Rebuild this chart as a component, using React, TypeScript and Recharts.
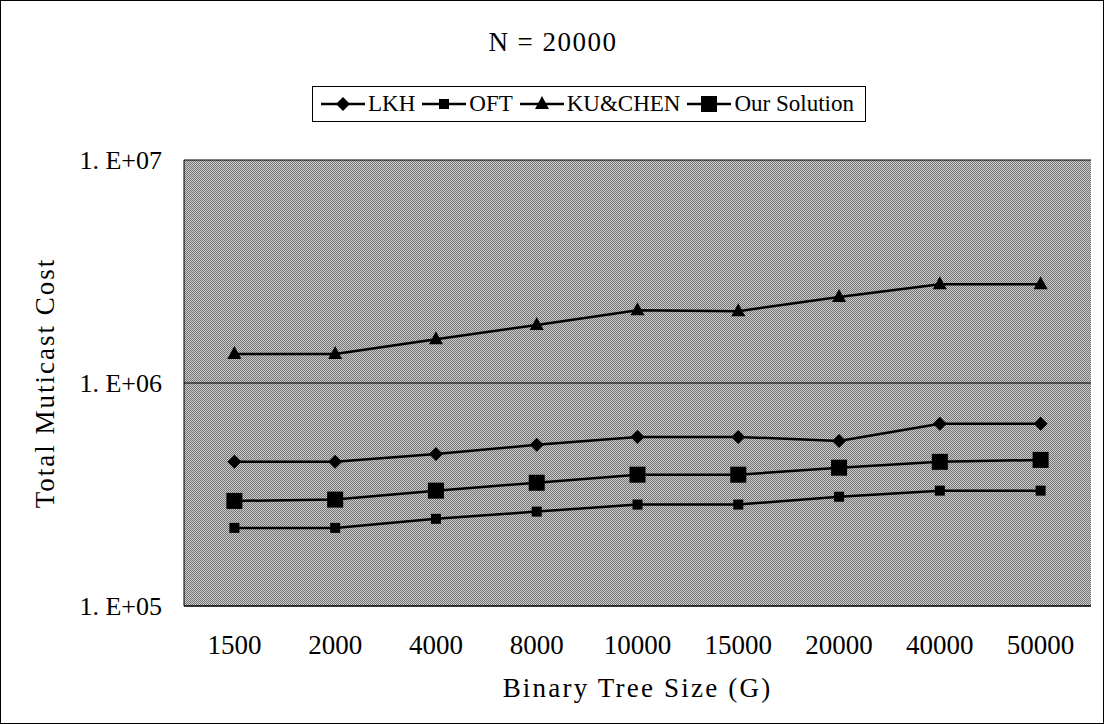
import { LineChart, Line, XAxis, YAxis, CartesianGrid } from 'recharts';

const treeSizes = ['1500', '2000', '4000', '8000', '10000', '15000', '20000', '40000', '50000'];
const lkh = [443000, 443000, 481000, 528000, 573000, 573000, 550000, 656000, 656000];
const oft = [224000, 224000, 246000, 265000, 285000, 285000, 309000, 329000, 329000];
const kuChen = [1350000, 1350000, 1570000, 1820000, 2120000, 2100000, 2430000, 2770000, 2770000];
const ourSolution = [296000, 300000, 329000, 357000, 388000, 388000, 417000, 443000, 452000];
const yTicks = [100000, 1000000, 10000000];

const data = treeSizes.map((size, i) => ({
  size,
  lkh: lkh[i],
  oft: oft[i],
  kuChen: kuChen[i],
  ourSolution: ourSolution[i],
}));

const font = '"Liberation Serif", "Times New Roman", serif';

type Shape = 'diamond' | 'smallSquare' | 'triangle' | 'bigSquare';

const marker = (shape: Shape, cx: number, cy: number, key?: string) => {
  if (shape === 'diamond') {
    return <polygon key={key} points={`${cx},${cy - 7} ${cx + 7},${cy} ${cx},${cy + 7} ${cx - 7},${cy}`} fill="#000" />;
  }
  if (shape === 'triangle') {
    return <polygon key={key} points={`${cx},${cy - 8} ${cx + 7},${cy + 5} ${cx - 7},${cy + 5}`} fill="#000" />;
  }
  const s = shape === 'bigSquare' ? 16 : 10;
  return <rect key={key} x={cx - s / 2} y={cy - s / 2} width={s} height={s} fill="#000" />;
};

const dotFor = (shape: Shape) => (props: any) => marker(shape, props.cx, props.cy, `${shape}-${props.index}`);

const legendItems: { name: string; shape: Shape }[] = [
  { name: 'LKH', shape: 'diamond' },
  { name: 'OFT', shape: 'smallSquare' },
  { name: 'KU&CHEN', shape: 'triangle' },
  { name: 'Our Solution', shape: 'bigSquare' },
];

const fmt = (v: number) => `1. E+0${Math.round(Math.log10(v))}`;

export default function App() {
  return (
    <div
      style={{
        position: 'absolute',
        left: 0,
        top: 0,
        width: 1104,
        height: 724,
        border: '1px solid #000',
        boxSizing: 'border-box',
        background: '#fff',
        fontFamily: font,
        color: '#000',
      }}
    >
      <div style={{ position: 'absolute', top: 26, left: 0, width: 1104, textAlign: 'center', fontSize: 27, letterSpacing: 1.5 }}>
        N = 20000
      </div>
      <div
        style={{
          position: 'absolute',
          top: 85,
          left: 311,
          height: 36,
          display: 'flex',
          alignItems: 'center',
          border: '1px solid #000',
          padding: '0 4px 0 8px',
          boxSizing: 'border-box',
          fontSize: 23,
          whiteSpace: 'nowrap',
        }}
      >
        {legendItems.map((it) => (
          <span key={it.name} style={{ display: 'inline-flex', alignItems: 'center', marginRight: 7 }}>
            <svg width={44} height={20}>
              <line x1={0} y1={10} x2={44} y2={10} stroke="#000" strokeWidth={2.5} />
              {marker(it.shape, 22, 10)}
            </svg>
            <span style={{ marginLeft: 3 }}>{it.name}</span>
          </span>
        ))}
      </div>
      <LineChart width={1102} height={722} data={data} margin={{ top: 159, right: 12, bottom: 17, left: 0 }}>
        <defs>
          <pattern id="dither" width={2} height={2} patternUnits="userSpaceOnUse">
            <rect width={2} height={2} fill="#cccccc" />
            <rect width={1} height={1} fill="#747474" />
            <rect x={1} y={1} width={1} height={1} fill="#747474" />
          </pattern>
        </defs>
        <CartesianGrid
          vertical={false}
          horizontalValues={yTicks}
          stroke="#000"
          strokeWidth={1}
          fill="url(#dither)"
          fillOpacity={1}
        />
        <XAxis
          dataKey="size"
          scale="band"
          tickLine={false}
          axisLine={{ stroke: '#000' }}
          height={100}
          tick={{ fill: '#000', fontFamily: font, fontSize: 27, dy: 21 }}
          interval={0}
          label={{ value: 'Binary Tree Size (G)', position: 'insideBottom', offset: 9, fill: '#000', fontFamily: font, fontSize: 27, letterSpacing: 2.2 }}
        />
        <YAxis
          scale="log"
          domain={[100000, 10000000]}
          ticks={yTicks}
          tickFormatter={fmt}
          tickLine={false}
          axisLine={{ stroke: '#000' }}
          width={183}
          allowDataOverflow
          tick={{ fill: '#000', fontFamily: font, fontSize: 26, dx: -14 }}
          label={{ value: 'Total Muticast Cost', angle: -90, position: 'insideLeft', offset: 43, fill: '#000', fontFamily: font, fontSize: 27, letterSpacing: 2, style: { textAnchor: 'middle' } }}
        />
        <YAxis yAxisId="right" orientation="right" width={0} tick={false} tickLine={false} axisLine={{ stroke: '#000' }} />
        <Line dataKey="lkh" name="LKH" stroke="#000" strokeWidth={2.5} dot={dotFor('diamond')} isAnimationActive={false} />
        <Line dataKey="oft" name="OFT" stroke="#000" strokeWidth={2.5} dot={dotFor('smallSquare')} isAnimationActive={false} />
        <Line dataKey="kuChen" name="KU&CHEN" stroke="#000" strokeWidth={2.5} dot={dotFor('triangle')} isAnimationActive={false} />
        <Line dataKey="ourSolution" name="Our Solution" stroke="#000" strokeWidth={2.5} dot={dotFor('bigSquare')} isAnimationActive={false} />
      </LineChart>
    </div>
  );
}
